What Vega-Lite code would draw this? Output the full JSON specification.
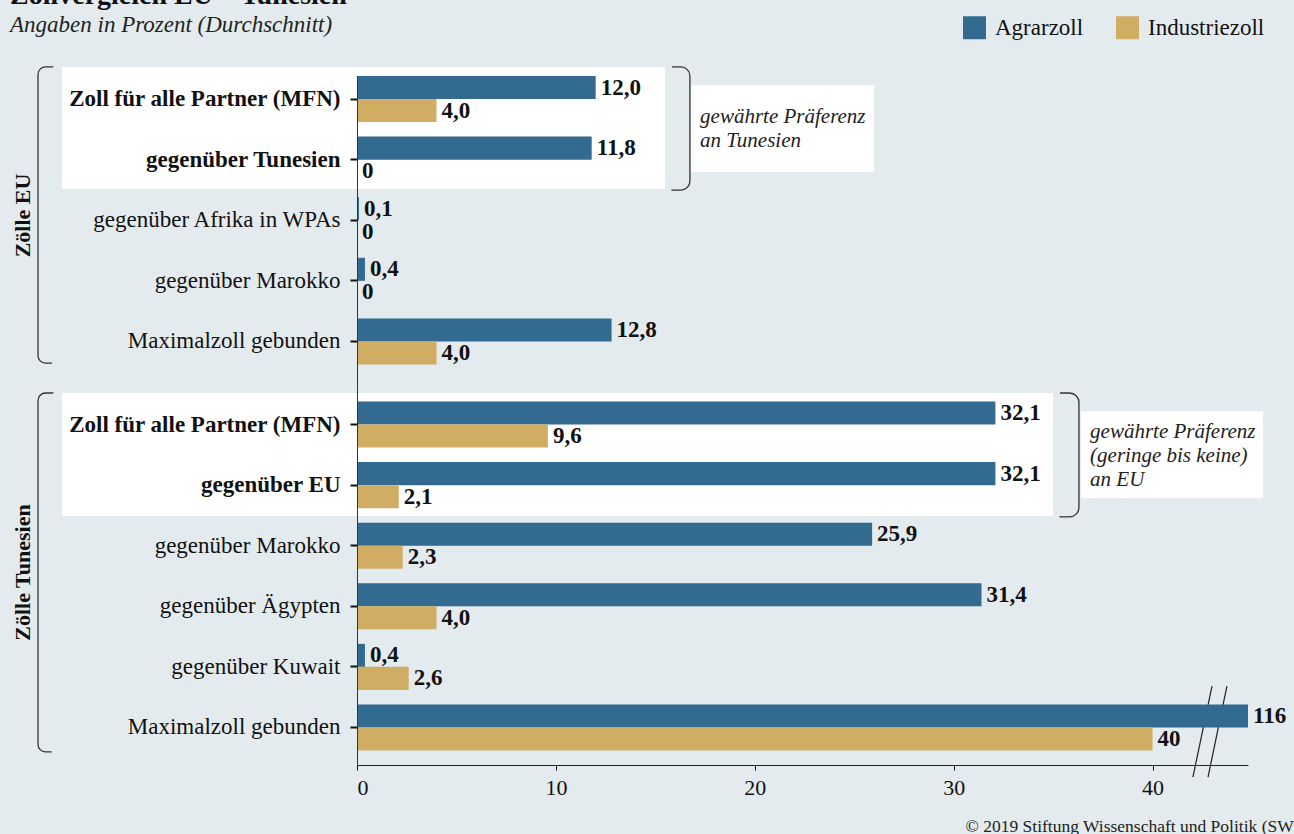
{
  "$schema": "https://vega.github.io/schema/vega-lite/v6.json",
  "background": "#e3ebee",
  "padding": {"left": 10, "top": -18, "right": 0, "bottom": 0},
  "spacing": 0,
  "bounds": "flush",
  "datasets": {
    "eu": [
      {"cat": "Zoll für alle Partner (MFN)", "type": "Agrarzoll", "value": 12.0, "label": "12,0"},
      {"cat": "Zoll für alle Partner (MFN)", "type": "Industriezoll", "value": 4.0, "label": "4,0"},
      {"cat": "gegenüber Tunesien", "type": "Agrarzoll", "value": 11.8, "label": "11,8"},
      {"cat": "gegenüber Tunesien", "type": "Industriezoll", "value": 0, "label": "0"},
      {"cat": "gegenüber Afrika in WPAs", "type": "Agrarzoll", "value": 0.1, "label": "0,1"},
      {"cat": "gegenüber Afrika in WPAs", "type": "Industriezoll", "value": 0, "label": "0"},
      {"cat": "gegenüber Marokko", "type": "Agrarzoll", "value": 0.4, "label": "0,4"},
      {"cat": "gegenüber Marokko", "type": "Industriezoll", "value": 0, "label": "0"},
      {"cat": "Maximalzoll gebunden", "type": "Agrarzoll", "value": 12.8, "label": "12,8"},
      {"cat": "Maximalzoll gebunden", "type": "Industriezoll", "value": 4.0, "label": "4,0"}
    ],
    "tn": [
      {"cat": "Zoll für alle Partner (MFN)", "type": "Agrarzoll", "value": 32.1, "label": "32,1"},
      {"cat": "Zoll für alle Partner (MFN)", "type": "Industriezoll", "value": 9.6, "label": "9,6"},
      {"cat": "gegenüber EU", "type": "Agrarzoll", "value": 32.1, "label": "32,1"},
      {"cat": "gegenüber EU", "type": "Industriezoll", "value": 2.1, "label": "2,1"},
      {"cat": "gegenüber Marokko", "type": "Agrarzoll", "value": 25.9, "label": "25,9"},
      {"cat": "gegenüber Marokko", "type": "Industriezoll", "value": 2.3, "label": "2,3"},
      {"cat": "gegenüber Ägypten", "type": "Agrarzoll", "value": 31.4, "label": "31,4"},
      {"cat": "gegenüber Ägypten", "type": "Industriezoll", "value": 4.0, "label": "4,0"},
      {"cat": "gegenüber Kuwait", "type": "Agrarzoll", "value": 0.4, "label": "0,4"},
      {"cat": "gegenüber Kuwait", "type": "Industriezoll", "value": 2.6, "label": "2,6"},
      {"cat": "Maximalzoll gebunden", "type": "Agrarzoll", "value": 116, "label": "116"},
      {"cat": "Maximalzoll gebunden", "type": "Industriezoll", "value": 40, "label": "40"}
    ]
  },
  "resolve": {"scale": {"x": "independent", "y": "independent", "color": "shared"}},
  "vconcat": [
    {
      "width": 891,
      "height": 311,
      "title": {
        "text": "Zollvergleich EU – Tunesien",
        "subtitle": "Angaben in Prozent (Durchschnitt)",
        "anchor": "start",
        "frame": "group",
        "dx": -347,
        "offset": 29,
        "font": "Liberation Serif",
        "fontSize": 28,
        "fontWeight": "bold",
        "color": "#111111",
        "subtitleFont": "Liberation Serif",
        "subtitleFontSize": 23,
        "subtitleFontStyle": "italic",
        "subtitleColor": "#222222",
        "subtitlePadding": 4
      },
      "resolve": {"scale": {"x": "independent"}},
      "layer": [
        {
          "data": {"values": [{}]},
          "mark": {"type": "rect", "fill": "#ffffff"},
          "encoding": {
            "x": {"datum": -14.83, "type": "quantitative", "scale": {"domain": [0, 44.8], "nice": false, "zero": false}, "axis": null},
            "x2": {"datum": 15.49},
            "y": {"datum": "Zoll für alle Partner (MFN)", "type": "nominal", "bandPosition": -0.196,
              "scale": {"domain": ["Zoll für alle Partner (MFN)", "gegenüber Tunesien", "gegenüber Afrika in WPAs", "gegenüber Marokko", "Maximalzoll gebunden"], "paddingInner": 0.24, "paddingOuter": 0.186, "align": 0}},
            "y2": {"datum": "gegenüber Tunesien", "bandPosition": 1.14}
          }
        },
        {
          "data": {"values": [{}]},
          "mark": {"type": "rect", "filled": false, "stroke": "#333333", "strokeWidth": 1.3, "cornerRadiusTopLeft": 8, "cornerRadiusBottomLeft": 8, "strokeDash": [7.5, 297, 3000]},
          "encoding": {
            "x": {"datum": -16.04, "type": "quantitative", "scale": {"domain": [0, 44.8], "nice": false, "zero": false}, "axis": null},
            "x2": {"datum": -15.29},
            "y": {"datum": "Zoll für alle Partner (MFN)", "type": "nominal", "bandPosition": -0.196,
              "scale": {"domain": ["Zoll für alle Partner (MFN)", "gegenüber Tunesien", "gegenüber Afrika in WPAs", "gegenüber Marokko", "Maximalzoll gebunden"], "paddingInner": 0.24, "paddingOuter": 0.186, "align": 0}},
            "y2": {"datum": "Maximalzoll gebunden", "bandPosition": 0.97}
          }
        },
        {
          "data": {"values": [{}]},
          "mark": {"type": "rect", "filled": false, "stroke": "#333333", "strokeWidth": 1.3, "cornerRadiusTopRight": 9, "cornerRadiusBottomRight": 9, "strokeDash": [151.5, 300]},
          "encoding": {
            "x": {"datum": 15.84, "type": "quantitative", "scale": {"domain": [0, 44.8], "nice": false, "zero": false}, "axis": null},
            "x2": {"datum": 16.74},
            "y": {"datum": "Zoll für alle Partner (MFN)", "type": "nominal", "bandPosition": -0.196,
              "scale": {"domain": ["Zoll für alle Partner (MFN)", "gegenüber Tunesien", "gegenüber Afrika in WPAs", "gegenüber Marokko", "Maximalzoll gebunden"], "paddingInner": 0.24, "paddingOuter": 0.186, "align": 0}},
            "y2": {"datum": "gegenüber Tunesien", "bandPosition": 1.16}
          }
        },
        {
          "data": {"values": [{}]},
          "mark": {"type": "rect", "fill": "#ffffff"},
          "encoding": {
            "x": {"datum": 16.8, "type": "quantitative", "scale": {"domain": [0, 44.8], "nice": false, "zero": false}, "axis": null},
            "x2": {"datum": 26.0},
            "y": {"datum": "Zoll für alle Partner (MFN)", "type": "nominal", "bandPosition": 0.2,
              "scale": {"domain": ["Zoll für alle Partner (MFN)", "gegenüber Tunesien", "gegenüber Afrika in WPAs", "gegenüber Marokko", "Maximalzoll gebunden"], "paddingInner": 0.24, "paddingOuter": 0.186, "align": 0}},
            "y2": {"datum": "gegenüber Tunesien", "bandPosition": 0.77}
          }
        },
        {
          "data": {"values": [{}]},
          "mark": {"type": "text", "text": ["gewährte Präferenz", "an Tunesien"], "align": "left", "baseline": "alphabetic", "lineHeight": 24, "font": "Liberation Serif", "fontSize": 21, "fontStyle": "italic", "color": "#222222"},
          "encoding": {
            "x": {"datum": 17.25, "type": "quantitative", "scale": {"domain": [0, 44.8], "nice": false, "zero": false}, "axis": null},
            "y": {"datum": "Zoll für alle Partner (MFN)", "type": "nominal", "bandPosition": 1.03,
              "scale": {"domain": ["Zoll für alle Partner (MFN)", "gegenüber Tunesien", "gegenüber Afrika in WPAs", "gegenüber Marokko", "Maximalzoll gebunden"], "paddingInner": 0.24, "paddingOuter": 0.186, "align": 0}}
          }
        },
        {
          "data": {"name": "eu"},
          "mark": {"type": "bar"},
          "encoding": {
            "x": {"field": "value", "type": "quantitative", "scale": {"domain": [0, 44.8], "nice": false, "zero": false, "clamp": true}, "axis": null},
            "y": {"field": "cat", "type": "nominal", "sort": null,
              "scale": {"domain": ["Zoll für alle Partner (MFN)", "gegenüber Tunesien", "gegenüber Afrika in WPAs", "gegenüber Marokko", "Maximalzoll gebunden"], "paddingInner": 0.24, "paddingOuter": 0.186, "align": 0},
              "axis": {
                "title": "Zölle EU", "titleFont": "Liberation Serif", "titleFontSize": 22, "titleFontWeight": "bold", "titleColor": "#111111",
                "titleAngle": -90, "titleX": -335, "titleY": 139, "titleAlign": "center", "titleBaseline": "middle",
                "labelFont": "Liberation Serif", "labelFontSize": 23, "labelColor": "#111111", "labelLimit": 400, "labelPadding": 10,
                "labelFontWeight": {"condition": {"test": "datum.value == 'Zoll für alle Partner (MFN)' || datum.value == 'gegenüber Tunesien'", "value": "bold"}, "value": "normal"},
                "tickSize": 7, "tickWidth": 2, "tickColor": "#111111", "domainColor": "#333333", "domainWidth": 1, "zindex": 1
              }},
            "yOffset": {"field": "type", "type": "nominal", "scale": {"domain": ["Agrarzoll", "Industriezoll"], "paddingInner": 0, "paddingOuter": 0}},
            "color": {"field": "type", "type": "nominal",
              "scale": {"domain": ["Agrarzoll", "Industriezoll"], "range": ["#336a8f", "#d1ad63"]},
              "legend": {"orient": "none", "direction": "horizontal", "legendX": 606, "legendY": -60, "title": null, "symbolType": "square", "symbolSize": 529, "symbolStrokeWidth": 0, "symbolOpacity": 1, "labelFont": "Liberation Serif", "labelFontSize": 23, "labelColor": "#111111", "columnPadding": 32, "labelOffset": 9}}
          }
        },
        {
          "data": {"name": "eu"},
          "mark": {"type": "text", "align": "left", "baseline": "middle", "dx": 5, "font": "Liberation Serif", "fontSize": 23, "fontWeight": "bold", "color": "#111111"},
          "encoding": {
            "x": {"field": "value", "type": "quantitative", "scale": {"domain": [0, 44.8], "nice": false, "zero": false, "clamp": true}, "axis": null},
            "y": {"field": "cat", "type": "nominal", "sort": null,
              "scale": {"domain": ["Zoll für alle Partner (MFN)", "gegenüber Tunesien", "gegenüber Afrika in WPAs", "gegenüber Marokko", "Maximalzoll gebunden"], "paddingInner": 0.24, "paddingOuter": 0.186, "align": 0}},
            "yOffset": {"field": "type", "type": "nominal", "scale": {"domain": ["Agrarzoll", "Industriezoll"], "paddingInner": 0, "paddingOuter": 0}},
            "text": {"field": "label"}
          }
        }
      ]
    },
    {
      "width": 891,
      "height": 378,
      "resolve": {"scale": {"x": "independent"}},
      "layer": [
        {
          "data": {"values": [{}]},
          "mark": {"type": "rect", "fill": "#ffffff"},
          "encoding": {
            "x": {"datum": -14.83, "type": "quantitative", "scale": {"domain": [0, 44.8], "nice": false, "zero": false}, "axis": null},
            "x2": {"datum": 35.0},
            "y": {"datum": "Zoll für alle Partner (MFN)", "type": "nominal", "bandPosition": -0.185,
              "scale": {"domain": ["Zoll für alle Partner (MFN)", "gegenüber EU", "gegenüber Marokko", "gegenüber Ägypten", "gegenüber Kuwait", "Maximalzoll gebunden"], "paddingInner": 0.24, "paddingOuter": 0.24}},
            "y2": {"datum": "gegenüber EU", "bandPosition": 1.17}
          }
        },
        {
          "data": {"values": [{}]},
          "mark": {"type": "rect", "filled": false, "stroke": "#333333", "strokeWidth": 1.3, "cornerRadiusTopLeft": 8, "cornerRadiusBottomLeft": 8, "strokeDash": [7.5, 360, 3000]},
          "encoding": {
            "x": {"datum": -16.04, "type": "quantitative", "scale": {"domain": [0, 44.8], "nice": false, "zero": false}, "axis": null},
            "x2": {"datum": -15.29},
            "y": {"datum": "Zoll für alle Partner (MFN)", "type": "nominal", "bandPosition": -0.185,
              "scale": {"domain": ["Zoll für alle Partner (MFN)", "gegenüber EU", "gegenüber Marokko", "gegenüber Ägypten", "gegenüber Kuwait", "Maximalzoll gebunden"], "paddingInner": 0.24, "paddingOuter": 0.24}},
            "y2": {"datum": "Maximalzoll gebunden", "bandPosition": 1.03}
          }
        },
        {
          "data": {"values": [{}]},
          "mark": {"type": "rect", "filled": false, "stroke": "#333333", "strokeWidth": 1.3, "cornerRadiusTopRight": 9.5, "cornerRadiusBottomRight": 9.5, "strokeDash": [154, 300]},
          "encoding": {
            "x": {"datum": 35.35, "type": "quantitative", "scale": {"domain": [0, 44.8], "nice": false, "zero": false}, "axis": null},
            "x2": {"datum": 36.3},
            "y": {"datum": "Zoll für alle Partner (MFN)", "type": "nominal", "bandPosition": -0.185,
              "scale": {"domain": ["Zoll für alle Partner (MFN)", "gegenüber EU", "gegenüber Marokko", "gegenüber Ägypten", "gegenüber Kuwait", "Maximalzoll gebunden"], "paddingInner": 0.24, "paddingOuter": 0.24}},
            "y2": {"datum": "gegenüber EU", "bandPosition": 1.19}
          }
        },
        {
          "data": {"values": [{}]},
          "mark": {"type": "rect", "fill": "#ffffff"},
          "encoding": {
            "x": {"datum": 36.4, "type": "quantitative", "scale": {"domain": [0, 44.8], "nice": false, "zero": false}, "axis": null},
            "x2": {"datum": 45.56},
            "y": {"datum": "Zoll für alle Partner (MFN)", "type": "nominal", "bandPosition": 0.21,
              "scale": {"domain": ["Zoll für alle Partner (MFN)", "gegenüber EU", "gegenüber Marokko", "gegenüber Ägypten", "gegenüber Kuwait", "Maximalzoll gebunden"], "paddingInner": 0.24, "paddingOuter": 0.24}},
            "y2": {"datum": "gegenüber EU", "bandPosition": 0.78}
          }
        },
        {
          "data": {"values": [{}]},
          "mark": {"type": "text", "text": ["gewährte Präferenz", "(geringe bis keine)", "an EU"], "align": "left", "baseline": "alphabetic", "lineHeight": 24, "font": "Liberation Serif", "fontSize": 21, "fontStyle": "italic", "color": "#222222"},
          "encoding": {
            "x": {"datum": 36.86, "type": "quantitative", "scale": {"domain": [0, 44.8], "nice": false, "zero": false}, "axis": null},
            "y": {"datum": "Zoll für alle Partner (MFN)", "type": "nominal", "bandPosition": 0.79,
              "scale": {"domain": ["Zoll für alle Partner (MFN)", "gegenüber EU", "gegenüber Marokko", "gegenüber Ägypten", "gegenüber Kuwait", "Maximalzoll gebunden"], "paddingInner": 0.24, "paddingOuter": 0.24}}
          }
        },
        {
          "data": {"values": [{}]},
          "mark": {"type": "rule", "stroke": "#222222", "strokeWidth": 1.2},
          "encoding": {
            "x": {"datum": 42.03, "type": "quantitative", "scale": {"domain": [0, 44.8], "nice": false, "zero": false}, "axis": null},
            "x2": {"datum": 42.99},
            "y": {"datum": "Maximalzoll gebunden", "type": "nominal", "bandPosition": 1.58,
              "scale": {"domain": ["Zoll für alle Partner (MFN)", "gegenüber EU", "gegenüber Marokko", "gegenüber Ägypten", "gegenüber Kuwait", "Maximalzoll gebunden"], "paddingInner": 0.24, "paddingOuter": 0.24}},
            "y2": {"datum": "Maximalzoll gebunden", "bandPosition": -0.4}
          }
        },
        {
          "data": {"values": [{}]},
          "mark": {"type": "rule", "stroke": "#222222", "strokeWidth": 1.2},
          "encoding": {
            "x": {"datum": 42.79, "type": "quantitative", "scale": {"domain": [0, 44.8], "nice": false, "zero": false}, "axis": null},
            "x2": {"datum": 43.74},
            "y": {"datum": "Maximalzoll gebunden", "type": "nominal", "bandPosition": 1.58,
              "scale": {"domain": ["Zoll für alle Partner (MFN)", "gegenüber EU", "gegenüber Marokko", "gegenüber Ägypten", "gegenüber Kuwait", "Maximalzoll gebunden"], "paddingInner": 0.24, "paddingOuter": 0.24}},
            "y2": {"datum": "Maximalzoll gebunden", "bandPosition": -0.4}
          }
        },
        {
          "data": {"name": "tn"},
          "mark": {"type": "bar"},
          "encoding": {
            "x": {"field": "value", "type": "quantitative", "scale": {"domain": [0, 44.8], "nice": false, "zero": false, "clamp": true},
              "axis": {
                "values": [0, 10, 20, 30, 40], "grid": false, "tickSize": 5, "tickColor": "#111111", "domainColor": "#222222",
                "labelFont": "Liberation Serif", "labelFontSize": 22, "labelColor": "#111111", "labelPadding": 7,
                "title": "© 2019 Stiftung Wissenschaft und Politik (SWP)", "titleFont": "Liberation Serif", "titleFontSize": 17.5, "titleFontWeight": "normal", "titleColor": "#222222",
                "titleAnchor": "start", "titleAlign": "left", "titleBaseline": "alphabetic", "titleX": 608, "titleY": 66, "zindex": 1
              }},
            "y": {"field": "cat", "type": "nominal", "sort": null,
              "scale": {"domain": ["Zoll für alle Partner (MFN)", "gegenüber EU", "gegenüber Marokko", "gegenüber Ägypten", "gegenüber Kuwait", "Maximalzoll gebunden"], "paddingInner": 0.24, "paddingOuter": 0.24},
              "axis": {
                "title": "Zölle Tunesien", "titleFont": "Liberation Serif", "titleFontSize": 22, "titleFontWeight": "bold", "titleColor": "#111111",
                "titleAngle": -90, "titleX": -335, "titleY": 185, "titleAlign": "center", "titleBaseline": "middle",
                "labelFont": "Liberation Serif", "labelFontSize": 23, "labelColor": "#111111", "labelLimit": 400, "labelPadding": 10,
                "labelFontWeight": {"condition": {"test": "datum.value == 'Zoll für alle Partner (MFN)' || datum.value == 'gegenüber EU'", "value": "bold"}, "value": "normal"},
                "tickSize": 7, "tickWidth": 2, "tickColor": "#111111", "domainColor": "#333333", "domainWidth": 1, "zindex": 1
              }},
            "yOffset": {"field": "type", "type": "nominal", "scale": {"domain": ["Agrarzoll", "Industriezoll"], "paddingInner": 0, "paddingOuter": 0}},
            "color": {"field": "type", "type": "nominal",
              "scale": {"domain": ["Agrarzoll", "Industriezoll"], "range": ["#336a8f", "#d1ad63"]},
              "legend": {"orient": "none", "direction": "horizontal", "legendX": 606, "legendY": -60, "title": null, "symbolType": "square", "symbolSize": 529, "symbolStrokeWidth": 0, "symbolOpacity": 1, "labelFont": "Liberation Serif", "labelFontSize": 23, "labelColor": "#111111", "columnPadding": 32, "labelOffset": 9}}
          }
        },
        {
          "data": {"name": "tn"},
          "mark": {"type": "text", "align": "left", "baseline": "middle", "dx": 5, "font": "Liberation Serif", "fontSize": 23, "fontWeight": "bold", "color": "#111111"},
          "encoding": {
            "x": {"field": "value", "type": "quantitative", "scale": {"domain": [0, 44.8], "nice": false, "zero": false, "clamp": true}, "axis": null},
            "y": {"field": "cat", "type": "nominal", "sort": null,
              "scale": {"domain": ["Zoll für alle Partner (MFN)", "gegenüber EU", "gegenüber Marokko", "gegenüber Ägypten", "gegenüber Kuwait", "Maximalzoll gebunden"], "paddingInner": 0.24, "paddingOuter": 0.24}},
            "yOffset": {"field": "type", "type": "nominal", "scale": {"domain": ["Agrarzoll", "Industriezoll"], "paddingInner": 0, "paddingOuter": 0}},
            "text": {"field": "label"}
          }
        }
      ]
    }
  ],
  "config": {
    "font": "Liberation Serif",
    "view": {"stroke": null}
  }
}
